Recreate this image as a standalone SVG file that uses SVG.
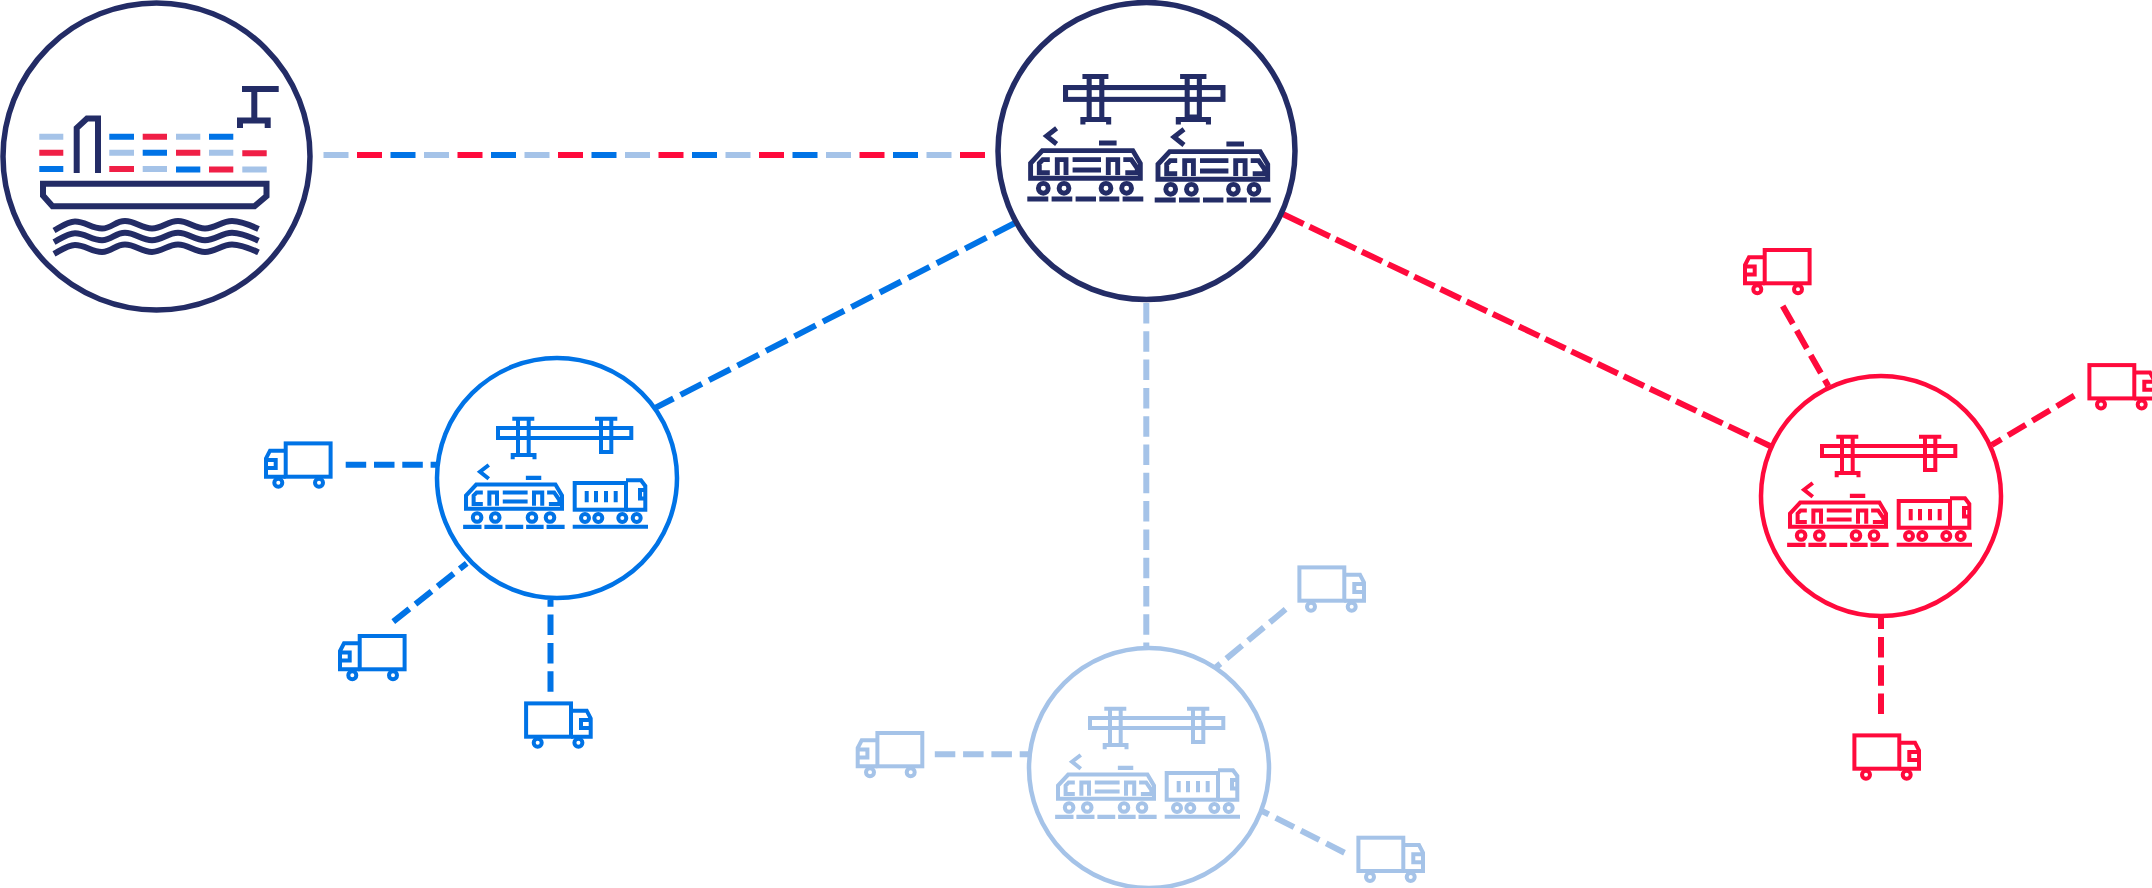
<svg xmlns="http://www.w3.org/2000/svg" width="2152" height="888" viewBox="0 0 2152 888">
<style>
.ln{fill:none;stroke:currentColor;stroke-linejoin:miter;stroke-linecap:butt}
.navy{color:#232c66}.blue{color:#0073e6}.red{color:#ff0a3c}.pale{color:#a5c3e8}
.ring{fill:#fff;stroke:currentColor}
.thin{stroke-width:4}
.conn line{stroke-width:6;fill:none}
.d-short{stroke-dasharray:20.5 7.8}
.d-blue{stroke-dasharray:24 8}
.d-red{stroke-dasharray:22.5 6.5}
.c-blue{stroke:#0073e6}.c-red{stroke:#ff0a3c}.c-pale{stroke:#a5c3e8}
</style>
<defs>
<g id="gantry-feet">
<rect x="3" y="18" width="133.3" height="10"/>
<path d="M17.3 8.7H39.3M23 8.7V45M33.7 8.7V45M17.7 49.3V45H39.5V49.3"/>
<path d="M100 8.7H122.3M106 8.7V43H116.3V8.7M98.5 49.3V45H124V49.3"/>
</g>
<g id="gantry-closed">
<rect x="3" y="18" width="133.3" height="10"/>
<path d="M17.3 8.7H39.3M23 8.7V45M33.7 8.7V45M17.7 49.3V45H39.5V49.3"/>
<path d="M100 8.7H122.3M106 8.7V42H116.3V8.7"/>
</g>
<g id="train">
<path d="M2.3 30V15L14 2.3H104.5L112 15V30Z"/>
<path d="M21.5 11.3H14.5L11 15V24.5H21.5M29 26.7V11.3H37.7V26.7M44.3 11.3H72.7M44.3 21.7H72.7M80 26.7V11.3H89.4V26.7M95 11.3H103L109 20V24.5H97"/>
<circle cx="15" cy="40" r="4.9"/><circle cx="35.7" cy="40" r="4.9"/><circle cx="77.7" cy="40" r="4.9"/><circle cx="98.3" cy="40" r="4.9"/>
<path d="M-1 50.7H20M23.3 50.7H44M47.3 50.7H67.7M71 50.7H91M94.3 50.7H115"/>
<path d="M28.3 -20L18.3 -12.3L28.3 -4.3M70.7 -5.3H88.3"/>
</g>
<g id="lorry">
<rect x="4.7" y="13" width="51.3" height="26.7"/>
<path d="M56 10.3H71L75.3 16V39.7H56M75.3 20H70V28.5H75.3"/>
<path d="M16.7 21V32.3M26 21V32.3M36 21V32.3M45.7 21V32.3"/>
<circle cx="15" cy="48" r="4"/><circle cx="28.3" cy="48" r="4"/><circle cx="52.3" cy="48" r="4"/><circle cx="66.7" cy="48" r="4"/>
<path d="M2.7 56.7H78"/>
</g>
<g id="truck">
<rect x="25.7" y="13.4" width="44.9" height="33.3"/>
<path d="M25.7 20.7H10L6 28.4V46.7H25.7M6 30H15.7V38H6"/>
<circle cx="18.3" cy="52.7" r="4"/><circle cx="59" cy="52.7" r="4"/>
</g>
<g id="terminal">
<g transform="translate(-62 -68)"><use href="#gantry-closed"/></g>
<g transform="translate(-93 4.5) scale(.875)" stroke-width="4.6"><use href="#train"/></g>
<g transform="translate(13 -8)"><use href="#lorry"/></g>
</g>
</defs>

<g id="connectors" class="conn">
<line class="c-pale" x1="323.5" y1="155" x2="985" y2="155" stroke-dasharray="25 75.5"/>
<line class="c-red" x1="357" y1="155" x2="985" y2="155" stroke-dasharray="25 75.5"/>
<line class="c-blue" x1="390.5" y1="155" x2="985" y2="155" stroke-dasharray="25 75.5"/>
<line class="c-blue d-blue" x1="1015" y1="223" x2="654.3" y2="408.3"/>
<line class="c-red d-red" x1="1283.3" y1="214.3" x2="1771.7" y2="446.7"/>
<line class="c-pale d-short" x1="1146.3" y1="303" x2="1146.3" y2="648"/>
<line class="c-blue d-short" x1="345.7" y1="464.7" x2="437" y2="464.7"/>
<line class="c-blue d-short" x1="393.3" y1="621.7" x2="466.7" y2="563.3"/>
<line class="c-blue d-short" x1="550.5" y1="691.7" x2="550.5" y2="600"/>
<line class="c-red d-short" x1="1782.7" y1="306" x2="1828.3" y2="386"/>
<line class="c-red d-short" x1="2074.3" y1="395.7" x2="1991.7" y2="445"/>
<line class="c-red d-short" x1="1881" y1="714" x2="1881" y2="618"/>
<line class="c-pale d-short" x1="934.8" y1="754.3" x2="1028" y2="754.3"/>
<line class="c-pale d-short" x1="1285.6" y1="609.3" x2="1216" y2="667.3"/>
<line class="c-pale d-short" x1="1344.5" y1="852.7" x2="1261.5" y2="810.7"/>
</g>

<g id="port" class="navy">
<circle class="ring" cx="156.5" cy="156.5" r="153.5" stroke-width="5.5"/>
<path class="ln" stroke-width="6" d="M76.7 173V128L87 118.5H98V173M242 89H278.7M254.3 92V120M240 128V120.5H267.7V128M43 183.7H266.5V196L254.5 206.3H52.5L43 195.5Z"/>
<g class="ln" stroke-width="6">
<path id="wave" d="M54 230.5C62 226 68 221.5 75 221.5C85 221.5 92 228.5 102 228.5C112 228.5 115 221 125 221C135 221 142 228.5 152 228.5C162 228.5 168 221 178 221C188 221 195 228.5 205 228.5C215 228.5 222 221 232 221C240 221 250 225 258.5 229"/>
<use href="#wave" y="11.7"/><use href="#wave" y="23.4"/>
</g>
<g fill="none" stroke-width="6">
<path stroke="#a5c3e8" d="M39.3 136.7H63.3M109.3 152.7H134M142.7 169H167M176 136.7H200.3M209 152.7H233.3M242.3 169.5H266.7"/>
<path stroke="#f01f46" d="M39.3 152.7H63.3M109.3 169H134M142.7 136.7H167M176 152.7H200.3M209 169.5H233.3M242.3 153.3H266.7"/>
<path stroke="#0073e6" d="M39.3 169H63.3M109.3 136.7H134M142.7 152.7H167M176 169.5H200.3M209 136.7H233.3"/>
</g>
</g>

<g id="hub" class="navy">
<circle class="ring" cx="1146.5" cy="151" r="148.5" stroke-width="5.5"/>
<g class="ln">
<g transform="translate(1062 66.3) scale(1.181)" stroke-width="4.3"><use href="#gantry-feet"/></g>
<g transform="translate(1028.3 148.3)" stroke-width="4.9"><use href="#train"/></g>
<g transform="translate(1155.7 149.3)" stroke-width="4.9"><use href="#train"/></g>
</g>
</g>

<g id="terminal-blue" class="blue" transform="translate(557 478)">
<circle class="ring" r="120" stroke-width="4.5"/>
<g class="ln thin"><use href="#terminal"/></g>
</g>
<g id="terminal-red" class="red" transform="translate(1881 496)">
<circle class="ring" r="120" stroke-width="4.5"/>
<g class="ln thin"><use href="#terminal"/></g>
</g>
<g id="terminal-pale" class="pale" transform="translate(1149 768)">
<circle class="ring" r="120" stroke-width="4.5"/>
<g class="ln thin"><use href="#terminal"/></g>
</g>

<g id="truck-blue-1" class="blue ln thin" transform="translate(260 430)"><use href="#truck"/></g>
<g id="truck-blue-2" class="blue ln thin" transform="translate(334 622.6)"><use href="#truck"/></g>
<g id="truck-blue-3" class="blue ln thin" transform="translate(596.7 690) scale(-1 1)"><use href="#truck"/></g>
<g id="truck-red-1" class="red ln thin" transform="translate(1739 236.6)"><use href="#truck"/></g>
<g id="truck-red-2" class="red ln thin" transform="translate(2160 351.7) scale(-1 1)"><use href="#truck"/></g>
<g id="truck-red-3" class="red ln thin" transform="translate(1925 722) scale(-1 1)"><use href="#truck"/></g>
<g id="truck-pale-1" class="pale ln thin" transform="translate(851.7 719.6)"><use href="#truck"/></g>
<g id="truck-pale-2" class="pale ln thin" transform="translate(1370 554) scale(-1 1)"><use href="#truck"/></g>
<g id="truck-pale-3" class="pale ln thin" transform="translate(1429 824.3) scale(-1 1)"><use href="#truck"/></g>
</svg>
